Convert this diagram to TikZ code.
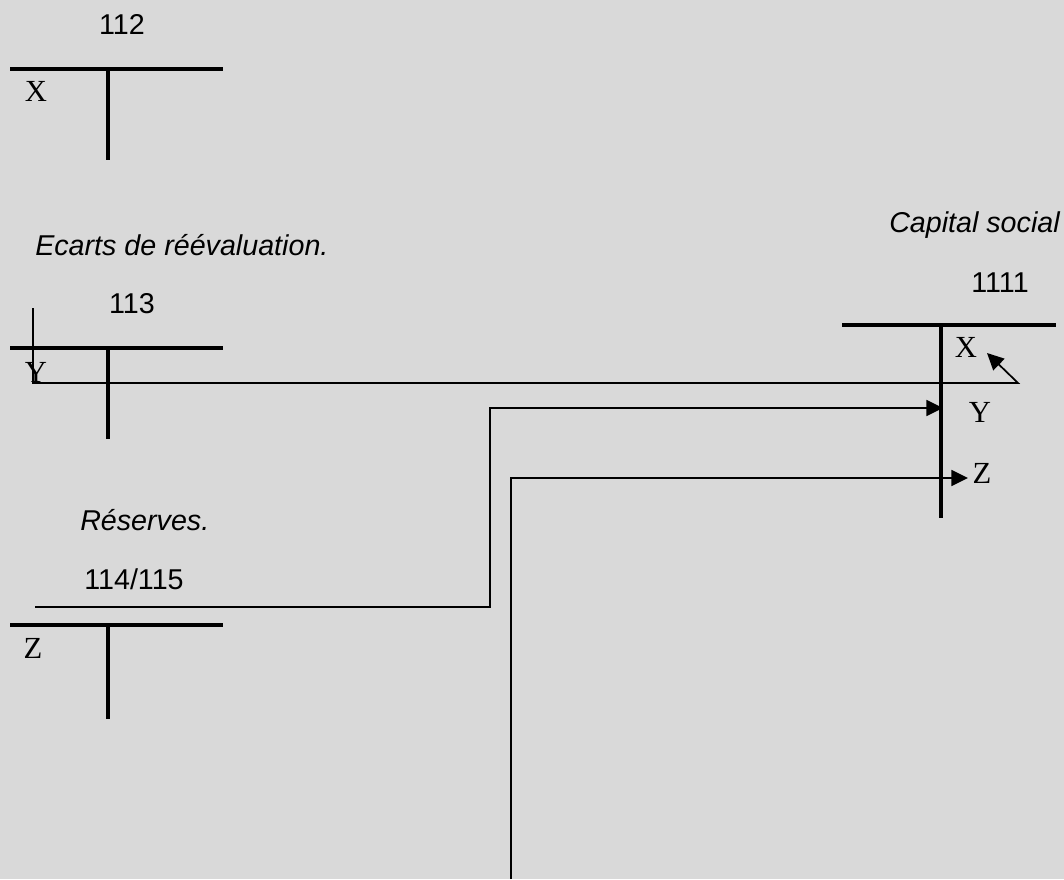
\documentclass[tikz,border=0pt]{standalone}
\usepackage{fontspec}
\setmainfont{Liberation Serif}
\setsansfont{Liberation Sans}
\usetikzlibrary{arrows.meta}
\definecolor{sheetgrey}{HTML}{D9D9D9}
\tikzset{
  ledger/.style={line width=3pt},
  flow/.style={line width=1.3pt},
  flowtip/.style={flow,-{Triangle[length=12.5pt,width=12pt]}},
  acctno/.style={font=\sffamily\fontsize{21.5}{26}\selectfont,inner sep=0pt,anchor=base},
  acctname/.style={font=\sffamily\itshape\fontsize{21.5}{26}\selectfont,inner sep=0pt},
  entry/.style={font=\fontsize{23}{27}\selectfont,inner sep=0pt,anchor=base}
}
\begin{document}
\begin{tikzpicture}[x=0.75pt,y=-0.75pt]
\useasboundingbox[fill=sheetgrey] (0,0) rectangle (1064,879);

% Left T-accounts: top bar and dividing stroke.
\foreach \y/\d in {69/91,348/91,625/94}{
  \draw[ledger] (10,\y) -- (223,\y);
  \draw[ledger] (108,\y) -- (108,{\y+\d});
}
% Right T-account, longer stroke.
\draw[ledger] (842,325) -- (1056,325);
\draw[ledger] (941,325) -- (941,518);

% Account numbers and names.
\node[acctno] (n112) at (122,34) {112};
\node[acctname,anchor=base west] (ecarts) at (35,255) {Ecarts de réévaluation.};
\node[acctno] (n113) at (132,313) {113};
\node[acctname,anchor=base west] (reserves) at (80,530) {Réserves.};
\node[acctno] (n114) at (134,589) {114/115};
\node[acctname,anchor=base east] (capital) at (1060,232) {Capital social};
\node[acctno] (n1111) at (1000,292) {1111};

% Amounts on the debit/credit sides.
\node[entry] (x112) at (36,101) {X};
\node[entry] (y113) at (36,382) {Y};
\node[entry] (z114) at (33,658) {Z};
\node[entry] (x1111) at (966,357) {X};
\node[entry] (y1111) at (980,422) {Y};
\node[entry] (z1111) at (982,483) {Z};

% Transfers into capital.
\coordinate (xfrom) at (33,308);
\coordinate (xbend) at (1018,383);
\coordinate (xtip) at (987,353);
\draw[flowtip] (xfrom) |- (xbend) -- (xtip);

\coordinate (yfrom) at (35,607);
\coordinate (ykink) at (490,607);
\coordinate (ytip) at (943,408);
\draw[flowtip] (yfrom) -- (ykink) |- (ytip);

\coordinate (zfrom) at (511,879);
\coordinate (ztip) at (968,478);
\draw[flowtip] (zfrom) |- (ztip);
\end{tikzpicture}
\end{document}
